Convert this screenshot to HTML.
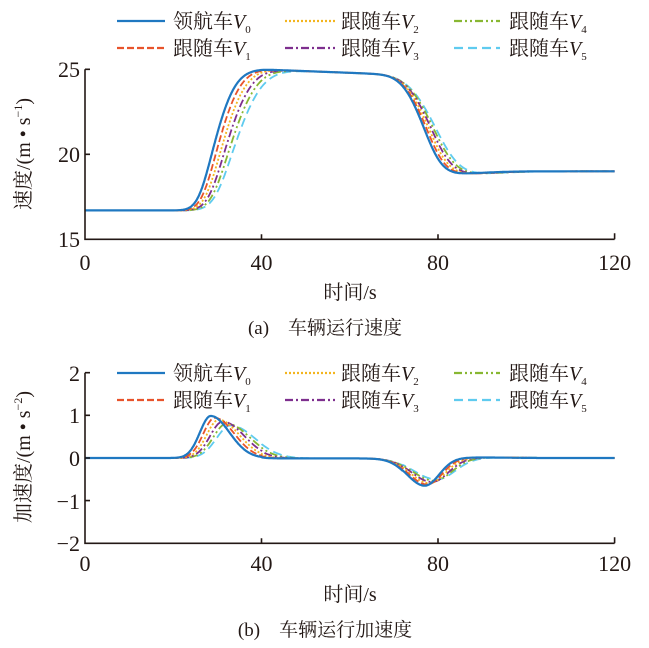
<!DOCTYPE html>
<html><head><meta charset="utf-8"><style>
html,body{margin:0;padding:0;background:#fff;}
svg{display:block;}
text{font-family:"Liberation Serif","Noto Serif CJK SC",serif;fill:#231815;}
</style></head><body>
<svg id="s" width="649" height="648" xmlns="http://www.w3.org/2000/svg">
<g id="curves"></g>
<g stroke="#231815" stroke-width="1.6" fill="none">
<path d="M85,69.3 V239.3 H614.6"/>
<path d="M85,69.3 h5 M85,154.3 h5 M261.5,239.3 v-5 M438,239.3 v-5 M614.6,239.3 v-6"/>
<path d="M85,372.7 V543.3 H614.6"/>
<path d="M85,372.7 h5 M85,415.3 h5 M85,458 h5 M85,500.6 h5 M261.5,543.3 v-5 M438,543.3 v-5 M614.6,543.3 v-6"/>
</g>
<g font-size="22" text-anchor="end">
<text x="80" y="77">25</text><text x="80" y="162">20</text><text x="80" y="247">15</text>
<text x="80" y="381">2</text><text x="80" y="423">1</text><text x="80" y="466">0</text><text x="80" y="509">−1</text><text x="80" y="551">−2</text>
</g>
<g font-size="22" text-anchor="middle">
<text x="85" y="270">0</text><text x="261.5" y="270">40</text><text x="438" y="270">80</text><text x="614.6" y="270">120</text>
<text x="85" y="571">0</text><text x="261.5" y="571">40</text><text x="438" y="571">80</text><text x="614.6" y="571">120</text>
<text x="350" y="299" font-size="20">时间/s</text>
<text x="350" y="601" font-size="20">时间/s</text>
<text x="325" y="334" font-size="19">(a)　车辆运行速度</text>
<text x="325" y="636" font-size="19">(b)　车辆运行加速度</text>
</g>
<text font-size="20" text-anchor="middle" transform="translate(30,154) rotate(-90)">速度/(m • s<tspan font-size="12" dy="-8">−1</tspan><tspan dy="8">)</tspan></text>
<text font-size="20" text-anchor="middle" transform="translate(30,457) rotate(-90)">加速度/(m • s<tspan font-size="12" dy="-8">−2</tspan><tspan dy="8">)</tspan></text>
<g id="leg"></g>
</svg>
<script>
var cols=["#1f78c1","#e8532b","#f3b51f","#7e2f8e","#88b732","#5fcbef"];
var dash=["","7,3","2,2","8,3,2,3","8,3,2,3,2,3","9,5"];
var NS="http://www.w3.org/2000/svg";
function ag(t,c,a,w1,w2){var w=t<c?w1:w2;return a*Math.exp(-Math.pow((t-c)/w,2));}
var X=function(t){return 85+t*529.6/120;};
var Yv=function(v){return 239.3-(v-15)*17;};
var Ya=function(a){return 458-a*42.65;};
var g=document.getElementById("curves");
for(var k=5;k>=0;k--){
 var s=1-0.045*k, d=0.9*k;
 var v=16.7,pv="",pa="",dt=0.1;
 for(var i=0;i<=1200;i++){
  var t=i*dt;
  var a=ag(t,28.5+d,0.985*s,3.5/s,6/s)
       -ag(t,77+d*0.6,0.65*s,5.6/s,4.55/s)
       +ag(t,90+d,0.012,8,8)
       -(t>40&&t<72?0.01:0);
  if(i>0)v+=a*dt;
  pv+=(i?"L":"M")+X(t).toFixed(1)+","+Yv(v).toFixed(1);
  pa+=(i?"L":"M")+X(t).toFixed(1)+","+Ya(a).toFixed(1);
 }
 [pv,pa].forEach(function(p){var e=document.createElementNS(NS,"path");e.setAttribute("d",p);e.setAttribute("fill","none");e.setAttribute("stroke",cols[k]);e.setAttribute("stroke-width",k==0?2.2:1.8);if(dash[k])e.setAttribute("stroke-dasharray",dash[k]);g.appendChild(e);});
}
var L=document.getElementById("leg");
var lx=[[117,165,173],[285,335,341],[454,500,509]];
var names=["领航车","跟随车","跟随车","跟随车","跟随车","跟随车"];
[[21,48],[373,400]].forEach(function(rows){
 for(var k=0;k<6;k++){
  var c=Math.floor(k/2),r=k%2,y=rows[r];
  var e=document.createElementNS(NS,"line");
  e.setAttribute("x1",lx[c][0]);e.setAttribute("x2",lx[c][1]);e.setAttribute("y1",y);e.setAttribute("y2",y);
  e.setAttribute("stroke",cols[k]);e.setAttribute("stroke-width",2.2);if(dash[k])e.setAttribute("stroke-dasharray",dash[k]);L.appendChild(e);
  var tx=document.createElementNS(NS,"text");tx.setAttribute("x",lx[c][2]);tx.setAttribute("y",y+7);tx.setAttribute("font-size","20");
  tx.innerHTML=names[k]+'<tspan font-style="italic">V</tspan><tspan font-size="11" dy="5">'+k+'</tspan>';L.appendChild(tx);
 }
});
</script>
</body></html>
